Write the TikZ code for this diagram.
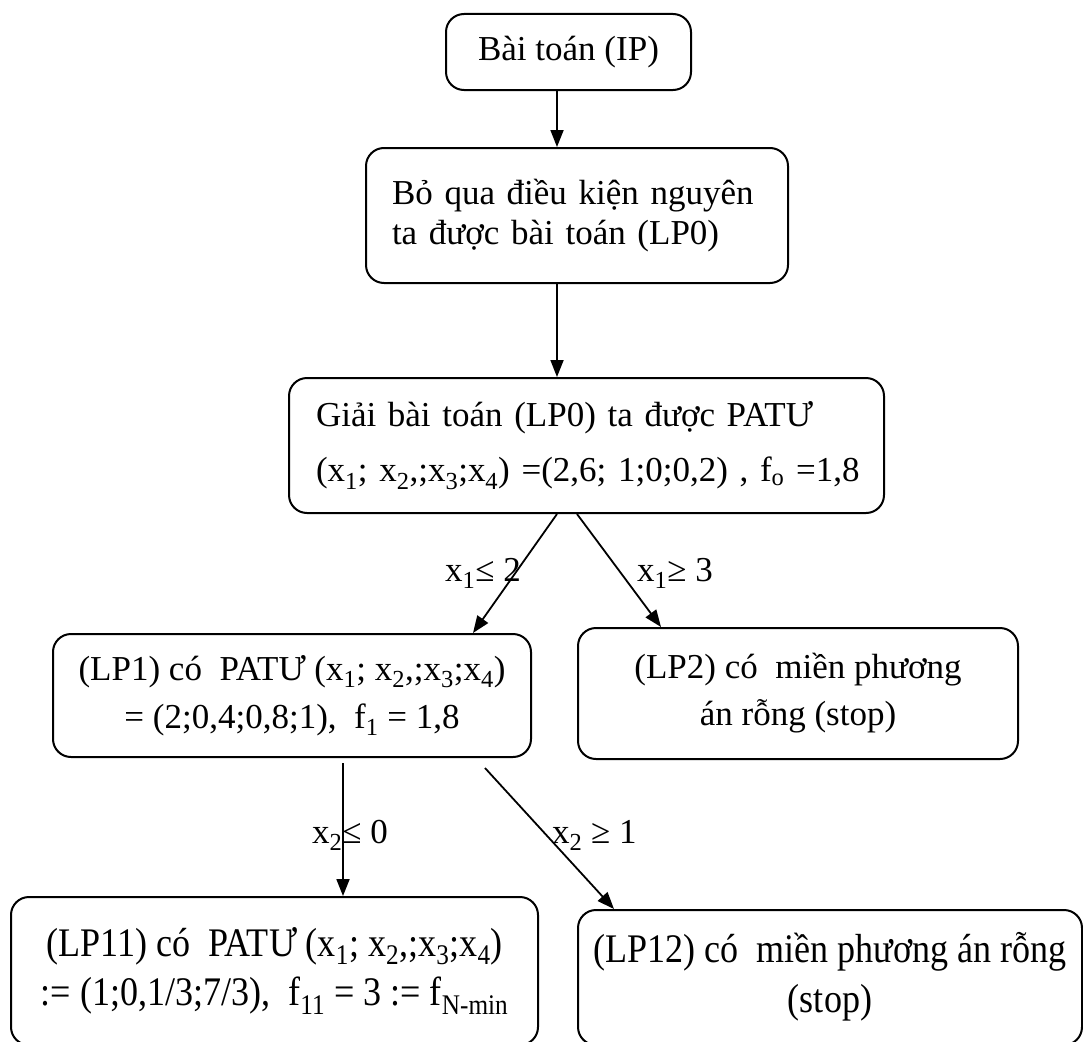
\documentclass[tikz,border=0pt]{standalone}
\usepackage{fontspec}
\setmainfont{Liberation Serif}
\usetikzlibrary{arrows.meta,calc}
\newcommand{\sub}[1]{\textsubscript{#1}}
% two centred lines, stretched upwards a little
\newcommand{\tallpair}[2]{\scalebox{1.03}[1.16]{\begin{tabular}{@{}c@{}}#1\\#2\end{tabular}}}
\begin{document}
\begin{tikzpicture}[x=1pt,y=-1pt,
  box/.style={draw, line width=2pt, rounded corners=18pt, inner sep=0pt,
    anchor=north west, font=\fontsize{35}{42}\selectfont},
  arr/.style={line width=1.8pt, -{Triangle[length=17pt,width=13pt]}},
  lbl/.style={font=\fontsize{35}{42}\selectfont, inner sep=0pt, anchor=base west}]
\useasboundingbox (0,0) rectangle (1083,1041);
\clip (0,0) rectangle (1083,1041);

% boxes
\node[box, minimum width=245, minimum height=76] (b1) at (445,13) {Bài toán (IP)};
\node[box, minimum width=422, minimum height=135, align=left, text width=370,
  font=\fontsize{35}{40}\selectfont] (b2) at (365,147)
  {Bỏ qua điều kiện nguyên\\ta được bài toán (LP0)};
\node[box, minimum width=595, minimum height=135, align=left, text width=541,
  font=\fontsize{35}{55}\selectfont] (b3) at (288,377)
  {\mbox{Giải bài toán (LP0) ta được PATƯ}\\
   \mbox{(x\sub{1}; x\sub{2},;x\sub{3};x\sub{4}) =(2,6; 1;0;0,2) , f\sub{o} =1,8}};
\node[box, minimum width=478, minimum height=123, align=center,
  font=\fontsize{35}{48}\selectfont] (lp1) at (52,633)
  {(LP1) có\ \ PATƯ (x\sub{1}; x\sub{2},;x\sub{3};x\sub{4})\\= (2;0,4;0,8;1),\ \ f\sub{1} = 1,8};
\node[box, minimum width=440, minimum height=131, align=center,
  font=\fontsize{35}{47}\selectfont] (lp2) at (577,627)
  {(LP2) có\ \ miền phương\\án rỗng (stop)};
\node[box, minimum width=527, minimum height=148,
  font=\fontsize{35}{43}\selectfont] (lp11) at (10,896)
  {\tallpair{(LP11) có\ \ PATƯ (x\sub{1}; x\sub{2},;x\sub{3};x\sub{4})}{:= (1;0,1/3;7/3),\ \ f\sub{11} = 3 := f\sub{N-min}}};
\node[box, minimum width=504, minimum height=135,
  font=\fontsize{35}{43}\selectfont] (lp12) at (577,909)
  {\tallpair{(LP12) có\ \ miền phương án rỗng}{(stop)}};

% connector columns
\coordinate (m1) at (557,0);
\coordinate (m2) at (577,0);
\coordinate (e1) at (473,0);
\coordinate (e2) at (661,0);
\coordinate (s1) at (343,763);
\coordinate (s2) at (485,768);
\coordinate (e3) at (614,0);

\draw[arr] (b1.south -| m1) -- (b2.north -| m1);
\draw[arr] (b2.south -| m1) -- (b3.north -| m1);
\draw[arr] (b3.south -| m1) -- (lp1.north -| e1);
\draw[arr] (b3.south -| m2) -- (lp2.north -| e2);
\draw[arr] (s1) -- (lp11.north -| s1);
\draw[arr] (s2) -- (lp12.north -| e3);

% branch conditions
\node[lbl] (c1) at (445,581) {x\sub{1}≤ 2};
\node[lbl] (c2) at (637,581) {x\sub{1}≥ 3};
\node[lbl] (c3) at (312,843) {x\sub{2}≤ 0};
\node[lbl] (c4) at (552,843) {x\sub{2} ≥ 1};
\end{tikzpicture}
\end{document}
